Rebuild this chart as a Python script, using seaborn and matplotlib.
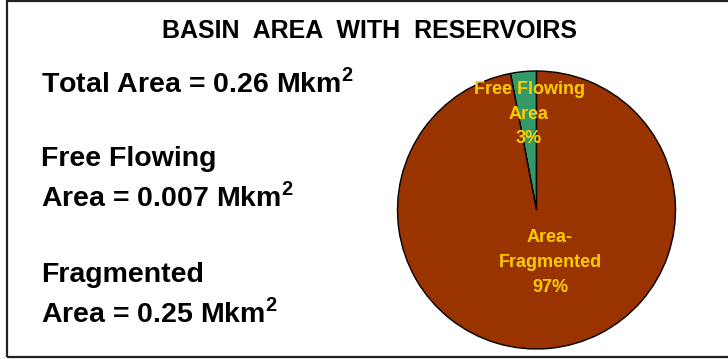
import matplotlib
matplotlib.use("Agg")
import matplotlib.pyplot as plt
import seaborn as sns
from matplotlib.patches import Rectangle

sns.set_theme(style="white")
plt.rcParams["font.family"] = ["Liberation Sans", "DejaVu Sans"]
plt.rcParams["mathtext.fontset"] = "custom"
plt.rcParams["mathtext.rm"] = "Liberation Sans"
plt.rcParams["mathtext.bf"] = "Liberation Sans:bold"

# Basin shares (percent)
categories = ["Free Flowing\nArea", "Area-\nFragmented"]
shares = [3, 97]
colors = ["#339966", "#993300"]

title = "BASIN  AREA  WITH  RESERVOIRS"
summary_lines = [
    "Total Area = 0.26 Mkm$^{\\mathbf{2}}$",
    "Free Flowing",
    "Area = 0.007 Mkm$^{\\mathbf{2}}$",
    "Fragmented",
    "Area = 0.25 Mkm$^{\\mathbf{2}}$",
]

W, H = 728, 359
fig = plt.figure(figsize=(W / 100, H / 100), dpi=100)
fig.patch.set_facecolor("white")


def fx(px):
    return px / W


def fy(py):
    return 1 - py / H


# outer frame
fig.add_artist(Rectangle((fx(6.5), fy(357)), fx(740 - 6.5), (357 - 1) / H,
                         transform=fig.transFigure, fill=False,
                         edgecolor="#222222", linewidth=1.6))

fig.text(fx(369), fy(38), title, ha="center", va="baseline",
         fontsize=18, fontweight="bold", color="black")

baselines = [92, 166, 206, 282, 322]
for y, s in zip(baselines, summary_lines):
    fig.text(fx(41), fy(y), s, ha="left", va="baseline",
             fontsize=20.5, fontweight="bold", color="black")

cx, cy, r = 536.5, 210, 139
ax = fig.add_axes([fx(cx - r), fy(cy + r), 2 * r / W, 2 * r / H])
wedges, _ = ax.pie(shares, colors=colors, startangle=90, counterclock=True,
                   wedgeprops=dict(edgecolor="black", linewidth=1.0))
ax.set_xlim(-1, 1)
ax.set_ylim(-1, 1)
ax.set_aspect("equal")
ax.axis("off")

# wedge labels: name lines followed by the share
label_anchor = [(529, 90), (550, 238)]
line_step = 24.5
for (lx, ly), cat, v in zip(label_anchor, categories, shares):
    lines = cat.split("\n") + [f"{v}%"]
    for i, line in enumerate(lines):
        fig.text(fx(lx), fy(ly + i * line_step), line, ha="center", va="center",
                 fontsize=13, fontweight="bold", color="#FFCC00")

fig.savefig("out.png", dpi=100, facecolor="white")
